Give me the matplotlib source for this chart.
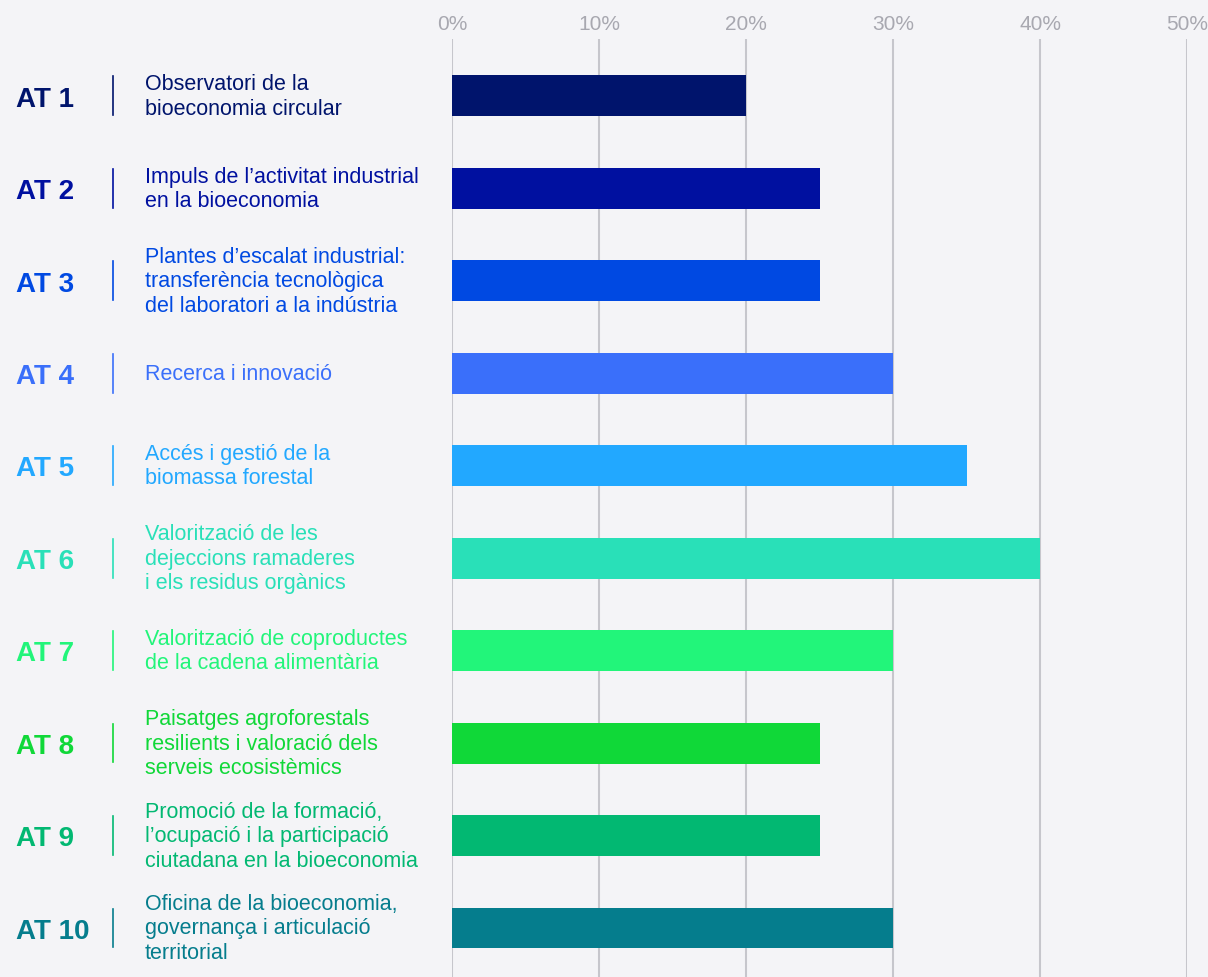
import matplotlib.pyplot as plt
import matplotlib.transforms as mtransforms

# Dades
codis = ['AT 1', 'AT 2', 'AT 3', 'AT 4', 'AT 5', 'AT 6', 'AT 7', 'AT 8', 'AT 9', 'AT 10']
descripcions = [
    "Observatori de la\nbioeconomia circular",
    "Impuls de l\u2019activitat industrial\nen la bioeconomia",
    "Plantes d\u2019escalat industrial:\ntransfer\u00e8ncia tecnol\u00f2gica\ndel laboratori a la ind\u00fastria",
    "Recerca i innovaci\u00f3",
    "Acc\u00e9s i gesti\u00f3 de la\nbiomassa forestal",
    "Valoritzaci\u00f3 de les\ndejeccions ramaderes\ni els residus org\u00e0nics",
    "Valoritzaci\u00f3 de coproductes\nde la cadena aliment\u00e0ria",
    "Paisatges agroforestals\nresilients i valoraci\u00f3 dels\nserveis ecosist\u00e8mics",
    "Promoci\u00f3 de la formaci\u00f3,\nl\u2019ocupaci\u00f3 i la participaci\u00f3\nciutadana en la bioeconomia",
    "Oficina de la bioeconomia,\ngovernan\u00e7a i articulaci\u00f3\nterritorial",
]
valors = [20, 25, 25, 30, 35, 40, 30, 25, 25, 30]
colors = ['#00146c', '#0010a0', '#0049e2', '#3a6ffa', '#22a8ff',
          '#29e0b8', '#22f57a', '#10d838', '#02b872', '#057d8d']
ticks = [0, 10, 20, 30, 40, 50]

fons = '#f4f4f7'
plt.rcParams['font.family'] = ['Liberation Sans', 'DejaVu Sans']

fig = plt.figure(figsize=(12.08, 9.78), dpi=100, facecolor=fons)
ax = fig.add_axes([452 / 1208, 0, 735 / 1208, 938 / 978])
ax.set_facecolor(fons)

pos = list(range(len(valors)))
ax.barh(pos, valors, height=0.443, color=colors, zorder=3)

ax.set_xlim(0, 50)
ax.set_ylim(9.53, -0.615)
ax.set_xticks(ticks)
ax.set_xticklabels([f'{t}%' for t in ticks])
ax.xaxis.tick_top()
ax.tick_params(axis='x', length=0, pad=4, labelsize=15, labelcolor='#a8a8b0')
ax.set_yticks([])
ax.grid(True, axis='x', color='#c6c6cc', linewidth=1.5, zorder=0)
for s in ax.spines.values():
    s.set_visible(False)

# Etiquetes de l'esquerra
trans = mtransforms.blended_transform_factory(fig.transFigure, ax.transData)
for i, (codi, desc, c) in enumerate(zip(codis, descripcions, colors)):
    ax.text(16 / 1208, i + 0.03, codi, transform=trans, ha='left', va='center',
            fontsize=20, fontweight='bold', color=c)
    ax.plot([113 / 1208, 113 / 1208], [i - 0.21, i + 0.21], transform=trans,
            color=c, linewidth=1.2, clip_on=False)
    ax.text(145 / 1208, i, desc, transform=trans, ha='left', va='center',
            fontsize=15.5, color=c, linespacing=1.22)

fig.savefig('out.png', dpi=100, facecolor=fons)
